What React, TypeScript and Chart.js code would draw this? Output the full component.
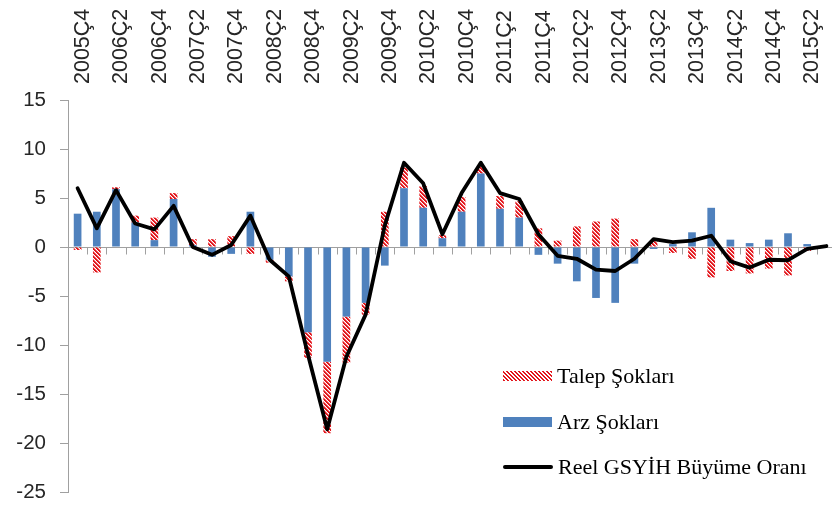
import React, { useEffect, useRef } from "react";
import { Chart, registerables } from "chart.js";

Chart.register(...registerables);

// ---- Data ----
const quarters = [
  "2005Ç4",
  "2006Ç1", "2006Ç2", "2006Ç3", "2006Ç4",
  "2007Ç1", "2007Ç2", "2007Ç3", "2007Ç4",
  "2008Ç1", "2008Ç2", "2008Ç3", "2008Ç4",
  "2009Ç1", "2009Ç2", "2009Ç3", "2009Ç4",
  "2010Ç1", "2010Ç2", "2010Ç3", "2010Ç4",
  "2011Ç1", "2011Ç2", "2011Ç3", "2011Ç4",
  "2012Ç1", "2012Ç2", "2012Ç3", "2012Ç4",
  "2013Ç1", "2013Ç2", "2013Ç3", "2013Ç4",
  "2014Ç1", "2014Ç2", "2014Ç3", "2014Ç4",
  "2015Ç1", "2015Ç2", "2015Ç3",
];

// Arz Şokları (supply shocks)
const arzShocks = [
  3.4,
  3.6, 5.9, 2.5, 0.7,
  4.9, 0.2, -1.0, -0.7,
  3.6, -1.3, -3.0, -8.7,
  -11.7, -7.1, -5.7, -1.9,
  6.0, 4.0, 0.9, 3.6,
  7.5, 3.9, 3.0, -0.8,
  -1.7, -3.5, -5.2, -5.7,
  -1.7, -0.2, 0.3, 1.5,
  4.0, 0.75, 0.4, 0.75,
  1.4, 0.3, 0,
];

// Talep Şokları (demand shocks)
const talepShocks = [
  -0.3,
  -2.6, 0.2, 0.7, 2.3,
  0.6, 0.6, 0.8, 1.1,
  -0.7, -0.3, -0.5, -2.6,
  -7.3, -4.7, -1.2, 3.6,
  2.1, 2.2, 0.3, 1.5,
  0.8, 1.3, 1.65, 1.9,
  0.65, 2.1, 2.6, 2.9,
  0.8, 0.6, -0.6, -1.2,
  -3.1, -2.45, -2.7, -2.2,
  -2.9, -0.4, 0,
];

// Reel GSYİH Büyüme Oranı (real GDP growth)
const growth = [
  6.0,
  1.9, 5.8, 2.4, 1.8,
  4.2, 0.0, -0.8, 0.2,
  3.2, -1.3, -3.0, -11.0,
  -18.6, -11.2, -6.9, 2.2,
  8.6, 6.5, 1.3, 5.5,
  8.6, 5.5, 4.9, 1.3,
  -0.9, -1.2, -2.3, -2.45,
  -1.2, 0.8, 0.5, 0.65,
  1.15, -1.45, -2.1, -1.3,
  -1.35, -0.2, 0.1,
];

const yMin = -25;
const yMax = 15;
const yStep = 5;

const legendLabels = ["Talep Şokları", "Arz Şokları", "Reel GSYİH Büyüme Oranı"];

// ---- Styles ----
const BLUE = "#4F81BD";
const RED = "#E3161C";
const RED_SOFT = "#F08A8D";
const AXIS_GRAY = "#A0A0A0";
const TEXT = "#262626";

function makeHatch(): CanvasPattern | string {
  const c = document.createElement("canvas");
  c.width = 4;
  c.height = 4;
  const g = c.getContext("2d");
  if (!g) return RED;
  g.fillStyle = "#FFFFFF";
  g.fillRect(0, 0, 4, 4);
  for (let y = 0; y < 4; y++) {
    for (let x = 0; x < 4; x++) {
      const d = (((x - y) % 4) + 4) % 4;
      if (d < 2) {
        g.fillStyle = RED;
        g.fillRect(x, y, 1, 1);
      } else if (d === 2) {
        g.fillStyle = RED_SOFT;
        g.fillRect(x, y, 1, 1);
      }
    }
  }
  const p = g.createPattern(c, "repeat");
  return p || RED;
}

const zeroAxisPlugin = {
  id: "zeroAxis",
  beforeDatasetsDraw(chart: any) {
    const { ctx, chartArea, scales } = chart;
    const xs = scales.x;
    const y0 = Math.round(scales.y.getPixelForValue(0)) + 0.5;
    const n = chart.data.labels.length;
    ctx.save();
    ctx.strokeStyle = AXIS_GRAY;
    ctx.lineWidth = 1;
    ctx.beginPath();
    ctx.moveTo(chartArea.left, y0);
    ctx.lineTo(chartArea.right, y0);
    for (let k = 0; k < n; k++) {
      const xc = xs.getPixelForValue(k);
      const xn = k + 1 < n ? xs.getPixelForValue(k + 1) : xc + (xc - xs.getPixelForValue(k - 1));
      const xb = Math.round((xc + xn) / 2) + 0.5;
      ctx.moveTo(xb, y0);
      ctx.lineTo(xb, y0 + 7);
    }
    ctx.stroke();
    ctx.restore();
  },
};

export default function App() {
  const canvasRef = useRef<HTMLCanvasElement | null>(null);

  useEffect(() => {
    document.body.style.margin = "0";
    document.body.style.overflow = "hidden";
    document.documentElement.style.overflow = "hidden";
    const canvas = canvasRef.current;
    if (!canvas) return;
    const hatch = makeHatch();

    const chart = new Chart(canvas, {
      type: "bar",
      data: {
        labels: quarters,
        datasets: [
          {
            type: "line",
            label: legendLabels[2],
            data: growth,
            borderColor: "#000000",
            backgroundColor: "#000000",
            borderWidth: 3.8,
            pointRadius: 0,
            tension: 0,
            borderJoinStyle: "round",
            borderCapStyle: "round",
            order: 0,
            stack: "growth",
          } as any,
          {
            type: "bar",
            label: legendLabels[1],
            data: arzShocks,
            backgroundColor: BLUE,
            borderWidth: 0,
            barPercentage: 0.4,
            categoryPercentage: 1,
            order: 1,
            stack: "shocks",
          },
          {
            type: "bar",
            label: legendLabels[0],
            data: talepShocks,
            backgroundColor: hatch as any,
            borderWidth: 0,
            barPercentage: 0.4,
            categoryPercentage: 1,
            order: 2,
            stack: "shocks",
          },
        ],
      },
      options: {
        responsive: false,
        animation: false,
        devicePixelRatio: 1,
        layout: { padding: { left: 0, top: 0, right: 4, bottom: 13 } },
        plugins: {
          legend: { display: false },
          tooltip: { enabled: false },
        },
        scales: {
          x: {
            type: "category",
            position: "top",
            stacked: true,
            offset: true,
            grid: { display: false },
            border: { display: false },
            ticks: {
              autoSkip: false,
              minRotation: 90,
              maxRotation: 90,
              padding: 8,
              labelOffset: 31,
              color: TEXT,
              font: { family: "Liberation Sans", size: 21.5 },
              callback: (_v: any, i: number) => (i % 2 === 0 ? quarters[i] : ""),
            },
            afterFit: (s: any) => {
              s.height = 100;
              s.paddingLeft = 0;
              s.paddingRight = 0;
            },
          },
          y: {
            stacked: true,
            min: yMin,
            max: yMax,
            grid: {
              drawOnChartArea: false,
              drawTicks: true,
              tickLength: 8,
              color: AXIS_GRAY,
            },
            border: { display: true, color: AXIS_GRAY },
            ticks: {
              stepSize: yStep,
              padding: 14,
              color: TEXT,
              font: { family: "Liberation Sans", size: 20.5 },
            },
            afterFit: (s: any) => {
              s.width = 68;
              s.paddingTop = 0;
              s.paddingBottom = 0;
            },
          },
        },
      },
      plugins: [zeroAxisPlugin],
    });

    return () => chart.destroy();
  }, []);

  const legendFont = '22px "Liberation Serif", "Times New Roman", serif';
  const rows = [
    {
      label: legendLabels[0],
      top: 365,
      swatch: {
        width: 49,
        height: 10,
        background: `repeating-linear-gradient(45deg, ${RED} 0px, ${RED} 1.6px, #ffffff 1.6px, #ffffff 2.83px)`,
      },
    },
    { label: legendLabels[1], top: 411, swatch: { width: 49, height: 10, background: BLUE } },
    { label: legendLabels[2], top: 456, swatch: { width: 50, height: 4, background: "#000000", borderRadius: 2 } },
  ];

  return (
    <div style={{ position: "relative", width: 832, height: 505, overflow: "hidden" }}>
      <canvas
        ref={canvasRef}
        width={840}
        height={505}
        style={{ position: "absolute", left: 0, top: 0, width: 840, height: 505 }}
      />
      {rows.map((r) => (
        <div
          key={r.label}
          style={{
            position: "absolute",
            left: 503,
            top: r.top,
            height: 22,
            display: "flex",
            alignItems: "center",
            font: legendFont,
            lineHeight: "22px",
            color: "#000",
            whiteSpace: "nowrap",
          }}
        >
          <span style={{ display: "inline-block", marginRight: 5, ...r.swatch }} />
          <span>{r.label}</span>
        </div>
      ))}
    </div>
  );
}
